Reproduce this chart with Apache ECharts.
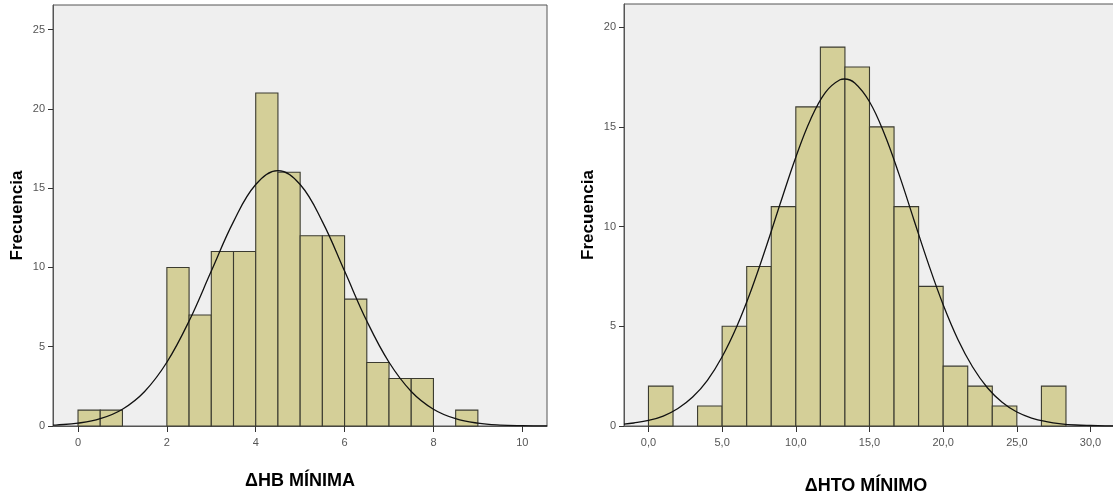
<!DOCTYPE html>
<html>
<head>
<meta charset="utf-8">
<script src="https://cdn.jsdelivr.net/npm/echarts@6/dist/echarts.min.js"></script>
<style>
html,body{margin:0;padding:0;background:#fff;}
#chart{width:1113px;height:495px;}
</style>
</head>
<body>
<div id="chart"></div>
<script>
// ---- Data ----
// Left histogram: ΔHB MÍNIMA (bin width 0.5)
var hbBinStart = [0, 0.5, 2, 2.5, 3, 3.5, 4, 4.5, 5, 5.5, 6, 6.5, 7, 7.5, 8.5];
var hbCounts   = [1, 1, 10, 7, 11, 11, 21, 16, 12, 12, 8, 4, 3, 3, 1];
var hbBinWidth = 0.5;
// Normal curve of left chart
var hbCurveX = [-0.56, -0.5, 0, 0.5, 1, 1.5, 2, 2.5, 3, 3.5, 4, 4.5, 5, 5.5, 6, 6.5, 7, 7.5, 8, 8.5, 9, 9.5, 10, 10.56];
var hbCurveY = [0.05, 0.06, 0.18, 0.46, 1.06, 2.18, 4.02, 6.62, 9.77, 12.89, 15.23, 16.1, 15.23, 12.89, 9.77, 6.62, 4.02, 2.18, 1.06, 0.46, 0.18, 0.06, 0.02, 0.005];
var hbYTicks = [0, 5, 10, 15, 20, 25];
var hbXTicks = [0, 2, 4, 6, 8, 10];
var hbXTickLabels = ['0', '2', '4', '6', '8', '10'];

// Right histogram: ΔHTO MÍNIMO (bin width 5/3)
var htoBinStart = [0, 3.333, 5, 6.667, 8.333, 10, 11.667, 13.333, 15, 16.667, 18.333, 20, 21.667, 23.333, 26.667];
var htoCounts   = [2, 1, 5, 8, 11, 16, 19, 18, 15, 11, 7, 3, 2, 1, 2];
var htoBinWidth = 1.6667;
var htoCurveX = [-1.66, -1, 0, 1, 2, 3, 4, 5, 6, 7, 8, 9, 10, 11, 12, 13, 13.3, 14, 15, 16, 17, 18, 19, 20, 21, 22, 23, 24, 25, 26, 27, 28, 29, 30, 31, 32];
var htoCurveY = [0.09, 0.15, 0.28, 0.50, 0.88, 1.45, 2.29, 3.47, 5.0, 6.87, 9.01, 11.28, 13.48, 15.37, 16.72, 17.36, 17.4, 17.2, 16.26, 14.67, 12.63, 10.37, 8.13, 6.08, 4.34, 2.96, 1.92, 1.19, 0.70, 0.40, 0.22, 0.11, 0.05, 0.025, 0.011, 0.005];
var htoYTicks = [0, 5, 10, 15, 20];
var htoXTicks = [0, 5, 10, 15, 20, 25, 30];
var htoXTickLabels = ['0,0', '5,0', '10,0', '15,0', '20,0', '25,0', '30,0'];

var yLabel = 'Frecuencia';
var hbTitle = 'ΔHB MÍNIMA';
var htoTitle = 'ΔHTO MÍNIMO';

// ---- Build chart ----
var FONT = '"Liberation Sans", Arial, sans-serif';
var BAR_FILL = '#d4cf98';
var BAR_STROKE = '#3b3b30';

function binData(starts, counts, w) {
  var out = [];
  for (var i = 0; i < starts.length; i++) out.push([starts[i], starts[i] + w, counts[i]]);
  return out;
}
function curveData(xs, ys) {
  var out = [];
  for (var i = 0; i < xs.length; i++) out.push([xs[i], ys[i]]);
  return out;
}
function renderBin(params, api) {
  var p0 = api.coord([api.value(0), 0]);
  var p1 = api.coord([api.value(1), api.value(2)]);
  return {
    type: 'rect',
    shape: { x: p0[0], y: p1[1], width: p1[0] - p0[0], height: p0[1] - p1[1] },
    style: { fill: BAR_FILL, stroke: BAR_STROKE, lineWidth: 1.1 }
  };
}
function xAxisDef(gi, min, max, ticks, labels) {
  return {
    type: 'value', gridIndex: gi, min: min, max: max,
    splitLine: { show: false },
    axisLine: { show: true, onZero: false, lineStyle: { color: '#555', width: 1 } },
    axisTick: { show: true, length: 6, customValues: ticks, lineStyle: { color: '#333' } },
    axisLabel: {
      customValues: ticks, margin: 11, color: '#555', fontSize: 11, fontFamily: FONT,
      formatter: function (v) { var i = ticks.indexOf(v); return i >= 0 ? labels[i] : ''; }
    }
  };
}
function yAxisDef(gi, max, ticks) {
  return {
    type: 'value', gridIndex: gi, min: 0, max: max,
    splitLine: { show: false },
    name: yLabel, nameLocation: 'middle', nameRotate: 90, nameGap: 27,
    nameTextStyle: { fontFamily: FONT, fontSize: 17, fontWeight: 'bold', color: '#000' },
    axisLine: { show: true, onZero: false, lineStyle: { color: '#555', width: 1 } },
    axisTick: { show: true, length: 5, customValues: ticks, lineStyle: { color: '#333' } },
    axisLabel: { customValues: ticks, margin: 8, color: '#555', fontSize: 11, fontFamily: FONT }
  };
}

var chart = echarts.init(document.getElementById('chart'), null, { renderer: 'canvas' });
chart.setOption({
  animation: false,
  backgroundColor: '#ffffff',
  grid: [
    { left: 53, top: 5, width: 494, height: 421, outerBoundsMode: 'none', containLabel: false,
      show: true, backgroundColor: '#efefef', borderColor: '#555', borderWidth: 1 },
    { left: 624, top: 4, width: 496, height: 422, outerBoundsMode: 'none', containLabel: false,
      show: true, backgroundColor: '#efefef', borderColor: '#555', borderWidth: 1 }
  ],
  xAxis: [
    xAxisDef(0, -0.563, 10.556, hbXTicks, hbXTickLabels),
    xAxisDef(1, -1.66, 32.0, htoXTicks, htoXTickLabels)
  ],
  yAxis: [
    yAxisDef(0, 26.55, hbYTicks),
    yAxisDef(1, 21.16, htoYTicks)
  ],
  series: [
    { type: 'custom', xAxisIndex: 0, yAxisIndex: 0, renderItem: renderBin,
      encode: { x: [0, 1], y: 2 }, data: binData(hbBinStart, hbCounts, hbBinWidth), z: 2 },
    { type: 'line', xAxisIndex: 0, yAxisIndex: 0, data: curveData(hbCurveX, hbCurveY),
      smooth: 0.4, showSymbol: false, clip: true, z: 3,
      lineStyle: { color: '#111', width: 1.3 } },
    { type: 'custom', xAxisIndex: 1, yAxisIndex: 1, renderItem: renderBin,
      encode: { x: [0, 1], y: 2 }, data: binData(htoBinStart, htoCounts, htoBinWidth), z: 2 },
    { type: 'line', xAxisIndex: 1, yAxisIndex: 1, data: curveData(htoCurveX, htoCurveY),
      smooth: 0.4, showSymbol: false, clip: true, z: 3,
      lineStyle: { color: '#111', width: 1.3 } }
  ],
  graphic: [
    { type: 'text', x: 300, y: 481, style: { text: hbTitle, font: 'bold 18px ' + FONT, fill: '#000', align: 'center', verticalAlign: 'middle' } },
    { type: 'text', x: 866, y: 486, style: { text: htoTitle, font: 'bold 18px ' + FONT, fill: '#000', align: 'center', verticalAlign: 'middle' } }
  ]
});
</script>
</body>
</html>
